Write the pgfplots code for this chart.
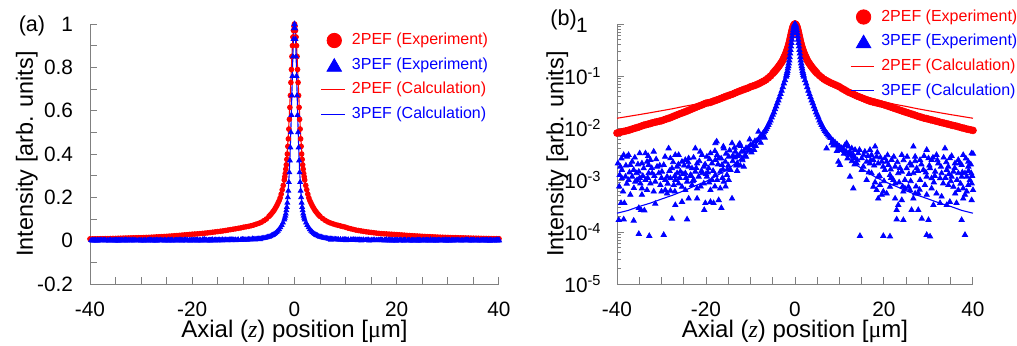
\documentclass[border=0pt]{standalone}
\usepackage{pgfplots}
\pgfplotsset{compat=1.18}
\usepackage{pgfplotstable}
\usepackage{fontspec}
\setmainfont{Liberation Sans}
\newfontfamily\serif{Liberation Serif}
\definecolor{pr}{RGB}{255,0,0}
\definecolor{pb}{RGB}{0,0,255}
\definecolor{axg}{RGB}{128,128,128}

% 2PEF experiment
\pgfplotstableread{
z v
-40 0.0080
-39.5 0.0082
-39 0.0084
-38.5 0.0086
-38 0.0088
-37.5 0.0090
-37 0.0093
-36.5 0.0096
-36 0.0099
-35.5 0.0102
-35 0.0105
-34.5 0.0109
-34 0.0113
-33.5 0.0116
-33 0.0119
-32.5 0.0122
-32 0.0126
-31.5 0.0129
-31 0.0132
-30.5 0.0135
-30 0.0138
-29.5 0.0143
-29 0.0148
-28.5 0.0153
-28 0.0158
-27.5 0.0165
-27 0.0172
-26.5 0.0179
-26 0.0186
-25.5 0.0193
-25 0.0200
-24.5 0.0208
-24 0.0217
-23.5 0.0226
-23 0.0236
-22.5 0.0246
-22 0.0256
-21.5 0.0266
-21 0.0276
-20.5 0.0288
-20 0.0300
-19.5 0.0306
-19 0.0312
-18.5 0.0324
-18 0.0336
-17.5 0.0348
-17 0.0360
-16.5 0.0375
-16 0.0390
-15.5 0.0405
-15 0.0420
-14.5 0.0435
-14 0.0450
-13.5 0.0470
-13 0.0490
-12.5 0.0510
-12 0.0530
-11.5 0.0550
-11 0.0570
-10.5 0.0590
-10 0.0620
-9.5 0.0640
-9 0.0660
-8.5 0.0690
-8 0.0720
-7.5 0.0760
-7 0.0800
-6.5 0.0850
-6 0.0920
-5.5 0.1000
-5.0 0.112
-4.8 0.117
-4.6 0.122
-4.4 0.128
-4.2 0.134
-4.0 0.140
-3.8 0.148
-3.6 0.156
-3.4 0.165
-3.2 0.175
-3.0 0.185
-2.8 0.198
-2.6 0.215
-2.4 0.235
-2.2 0.255
-2.0 0.280
-1.9 0.295
-1.8 0.310
-1.7 0.330
-1.6 0.350
-1.5 0.375
-1.4 0.400
-1.3 0.435
-1.2 0.470
-1.1 0.515
-1.0 0.560
-0.9 0.615
-0.8 0.670
-0.7 0.730
-0.6 0.790
-0.5 0.850
-0.4 0.900
-0.3 0.940
-0.2 0.970
-0.1 0.990
0 1.000
0.1 0.990
0.2 0.970
0.3 0.940
0.4 0.900
0.5 0.850
0.6 0.790
0.7 0.730
0.8 0.670
0.9 0.615
1.0 0.560
1.1 0.515
1.2 0.470
1.3 0.435
1.4 0.400
1.5 0.375
1.6 0.350
1.7 0.330
1.8 0.310
1.9 0.295
2.0 0.280
2.2 0.255
2.4 0.235
2.6 0.215
2.8 0.198
3.0 0.185
3.2 0.175
3.4 0.165
3.6 0.156
3.8 0.148
4.0 0.140
4.2 0.134
4.4 0.128
4.6 0.122
4.8 0.117
5.0 0.112
5.5 0.102
6 0.094
6.5 0.087
7 0.082
7.5 0.078
8 0.074
8.5 0.071
9 0.068
9.5 0.065
10 0.062
10.5 0.058
11 0.055
11.5 0.052
12 0.049
12.5 0.047
13 0.045
13.5 0.043
14 0.041
14.5 0.0395
15 0.038
15.5 0.0365
16 0.035
16.5 0.0337
17 0.0325
17.5 0.0317
18 0.0310
18.5 0.0302
19 0.0295
19.5 0.0288
20 0.0280
20.5 0.0271
21 0.0262
21.5 0.0253
22 0.0245
22.5 0.0237
23 0.0229
23.5 0.0221
24 0.0214
24.5 0.0207
25 0.0200
25.5 0.0194
26 0.0188
26.5 0.0182
27 0.0176
27.5 0.0170
28 0.0165
28.5 0.0160
29 0.0155
29.5 0.0152
30 0.0148
30.5 0.0144
31 0.0141
31.5 0.0137
32 0.0134
32.5 0.0130
33 0.0127
33.5 0.0124
34 0.0121
34.5 0.0118
35 0.0115
35.5 0.0112
36 0.0110
36.5 0.0107
37 0.0104
37.5 0.0101
38 0.0099
38.5 0.0096
39 0.0094
39.5 0.0092
40 0.0090
}\twoexp

% 3PEF experiment
\pgfplotstableread{
z v
-14 0.0023
-13.5 0.0027
-13 0.0029
-12.5 0.0030
-12 0.0035
-11.5 0.0036
-11 0.0041
-10.5 0.0042
-10 0.0047
-9.5 0.0049
-9 0.0056
-8.5 0.0058
-8 0.0065
-7.75 0.0068
-7.5 0.0072
-7.25 0.0077
-7 0.0082
-6.75 0.0088
-6.5 0.0095
-6.25 0.0104
-6 0.0115
-5.75 0.0127
-5.5 0.014
-5.25 0.016
-5 0.018
-4.75 0.020
-4.5 0.023
-4.25 0.026
-4 0.030
-3.75 0.034
-3.5 0.039
-3.25 0.045
-3 0.052
-2.75 0.061
-2.5 0.072
-2.25 0.083
-2 0.097
-1.9 0.105
-1.8 0.115
-1.7 0.125
-1.6 0.14
-1.5 0.155
-1.4 0.175
-1.3 0.20
-1.2 0.23
-1.1 0.27
-1.0 0.315
-0.9 0.37
-0.8 0.43
-0.7 0.50
-0.6 0.58
-0.5 0.67
-0.4 0.76
-0.3 0.85
-0.2 0.93
-0.1 0.98
0 1.0
0.1 0.98
0.2 0.93
0.3 0.85
0.4 0.76
0.5 0.67
0.6 0.58
0.7 0.50
0.8 0.43
0.9 0.37
1.0 0.315
1.1 0.27
1.2 0.23
1.3 0.20
1.4 0.175
1.5 0.155
1.6 0.14
1.7 0.125
1.8 0.115
1.9 0.105
2 0.097
2.25 0.083
2.5 0.072
2.75 0.061
3 0.052
3.25 0.045
3.5 0.039
3.75 0.034
4 0.030
4.25 0.026
4.5 0.023
4.75 0.020
5 0.018
5.25 0.016
5.5 0.014
5.75 0.0127
6 0.0115
6.25 0.0104
6.5 0.0095
6.75 0.0088
7 0.0082
7.25 0.0077
7.5 0.0072
7.75 0.0068
8 0.0064
8.5 0.0058
9 0.0053
9.5 0.0048
10 0.0044
10.5 0.0041
11 0.0038
11.5 0.0035
12 0.0032
12.5 0.0030
13 0.0028
13.5 0.0026
14 0.0024
-12.2 0.0045
-11 0.0028
-10.2 0.0060
-9.2 0.0038
-8.2 0.0085
-7.7 0.0052
-6.8 0.0065
-13.2 0.0019
-11.8 0.0024
-9.8 0.0034
-8.8 0.0045
-17.6 0.0055
-16.1 0.0044
-12.4 0.0050
-14.15 0.0051
-13.4 0.0035
-12.65 0.0047
-11.9 0.0026
-11.2 0.0030
-10.4 0.0038
-13.0 0.0021
-11.5 0.0018
-13.0 0.0015
-12.3 0.0019
-39.8 2.09e-3
-39.25 1.81e-3
-38.9 1.56e-3
-38.5 3.03e-3
-37.75 2.81e-3
-37.4 3.03e-3
-37.0 1.95e-3
-36.6 2.25e-3
-36.25 1.56e-3
-39.4 1.25e-3
-38.9 1.08e-3
-38.1 1.16e-3
-37.4 1.0e-3
-36.6 1.16e-3
-35.9 9.3e-4
-38.65 6.0e-4
-37.0 5.2e-4
-39.1 3.6e-4
-38.35 3.6e-4
-39.6 1.7e-4
-38.5 1.75e-4
-36.25 1.65e-4
-35.1 9.2e-5
-35.65 1.35e-3
-34.9 3.26e-3
-33.6 3.26e-3
-34.4 2.09e-3
-33.25 2.25e-3
-32.9 1.95e-3
-35.1 1.45e-3
-34.0 1.68e-3
-32.9 1.35e-3
-35.5 1.0e-3
-34.75 8.6e-4
-33.6 1.0e-3
-32.5 8.6e-4
-34.4 6.9e-4
-33.25 6.4e-4
-34.4 5.2e-4
-35.1 2.9e-4
-34.6 2.65e-4
-33.85 2.6e-4
-32.75 8.4e-5
-32.5 2.43e-3
-31.75 3.51e-3
-31.0 1.81e-3
-32.1 1.35e-3
-30.6 1.35e-3
-29.9 1.45e-3
-29.5 1.95e-3
-31.4 9.3e-4
-30.25 8.0e-4
-29.15 1.0e-3
-31.75 6.0e-4
-29.15 6.4e-4
-28.75 5.5e-4
-31.4 3.5e-4
-29.5 8.8e-5
-28.75 1.16e-3
-28.4 4.06e-3
-28.0 2.61e-3
-26.9 3.03e-3
-26.15 3.03e-3
-27.65 1.68e-3
-26.5 1.81e-3
-25.4 2.25e-3
-25.75 1.45e-3
-28.0 1.08e-3
-26.9 1.0e-3
-26.15 8.6e-4
-27.25 8.0e-4
-25.4 7.4e-4
-28.0 6.2e-4
-26.9 3.3e-4
-25.4 3.8e-4
-27.65 1.8e-4
-26.5 1.35e-3
-24.65 2.43e-3
-23.9 2.61e-3
-22.4 4.06e-3
-23.9 1.81e-3
-23.15 1.68e-3
-22.0 2.09e-3
-24.65 1.35e-3
-23.5 1.25e-3
-22.4 1.45e-3
-21.65 1.16e-3
-24.25 9.3e-4
-22.75 1.0e-3
-24.65 6.4e-4
-22.0 6.9e-4
-23.9 4.4e-4
-22.0 4.4e-4
-24.25 1.75e-4
-23.15 8.0e-4
-21.3 3.51e-3
-20.9 3.03e-3
-19.8 2.81e-3
-19.0 3.26e-3
-17.9 5.1e-3
-17.5 3.03e-3
-20.5 1.81e-3
-19.4 1.68e-3
-18.65 2.09e-3
-17.9 2.43e-3
-20.9 1.35e-3
-19.8 1.16e-3
-18.65 1.0e-3
-17.9 1.25e-3
-20.5 8.6e-4
-19.0 6.4e-4
-20.15 3.6e-4
-20.4 2.65e-4
-19.0 3.8e-4
-18.3 3.6e-4
-17.5 1.0e-3
-17.15 2.61e-3
-16.0 4.06e-3
-16.4 1.95e-3
-15.65 2.25e-3
-14.9 2.81e-3
-16.8 1.45e-3
-15.3 1.25e-3
-14.5 1.56e-3
-16.0 9.3e-4
-17.15 4.1e-4
-16.55 2.9e-4
-14.15 4.4e-4
-14.9 1.0e-3
-16.8 6.9e-4
-39.0 2.6e-3
-38.0 1.9e-3
-37.2 1.4e-3
-36.0 2.7e-3
-35.3 2.0e-3
-34.2 1.2e-3
-33.0 2.9e-3
-32.2 1.7e-3
-31.2 2.5e-3
-30.4 1.9e-3
-30.0 1.1e-3
-29.2 2.8e-3
-28.2 1.5e-3
-27.4 2.2e-3
-27.0 1.2e-3
-26.2 2.0e-3
-25.2 1.3e-3
-24.9 1.9e-3
-24.0 2.2e-3
-23.3 1.2e-3
-22.8 2.7e-3
-22.2 1.7e-3
-21.5 2.3e-3
-21.0 1.5e-3
-20.2 2.0e-3
-19.6 1.4e-3
-19.2 2.5e-3
-18.4 1.5e-3
-18.0 3.6e-3
-17.3 2.0e-3
-16.6 2.6e-3
-16.2 1.6e-3
-15.5 3.2e-3
-15.0 1.9e-3
-14.7 3.7e-3
-14.0 2.9e-3
-13.6 4.2e-3
-39.5 7.5e-4
-37.8 8.5e-4
-36.2 7.0e-4
-34.9 1.1e-3
-33.1 1.1e-3
-31.6 1.2e-3
-30.0 6.0e-4
-28.6 8.5e-4
-27.0 6.0e-4
-25.9 1.1e-3
-24.5 1.1e-3
-23.0 9.5e-4
-21.2 7.5e-4
-20.0 1.3e-3
-19.3 9.0e-4
-18.0 7.5e-4
-16.3 1.1e-3
-15.6 7.5e-4
-15.2 1.6e-3
7.1 4.06e-3
8.25 5.1e-3
9.0 4.7e-3
9.75 4.4e-3
10.1 3.8e-3
10.5 4.06e-3
11.25 4.7e-3
11.6 5.1e-3
12.0 4.4e-3
12.35 3.51e-3
12.75 4.06e-3
13.1 3.03e-3
13.5 3.8e-3
14.2 3.26e-3
15.0 2.61e-3
9.75 2.25e-3
10.1 1.95e-3
12.35 1.16e-3
13.1 6.9e-4
15.7 3.51e-3
16.85 3.8e-3
18.0 4.4e-3
17.2 3.03e-3
18.35 2.81e-3
16.1 2.25e-3
16.85 2.09e-3
17.6 2.43e-3
18.7 2.09e-3
19.5 2.25e-3
20.2 2.61e-3
21.0 1.95e-3
21.7 2.43e-3
22.5 1.81e-3
20.6 2.25e-3
16.1 1.0e-3
17.6 7.4e-4
18.35 6.4e-4
19.1 8.0e-4
19.85 6.0e-4
18.7 4.4e-4
19.5 5.2e-4
20.6 5.5e-4
21.35 7.4e-4
22.1 1.0e-3
22.5 8.6e-4
23.2 1.35e-3
24.0 1.45e-3
24.7 1.0e-3
25.5 7.4e-4
25.85 6.4e-4
24.35 6.0e-4
26.6 4.4e-4
27.0 5.5e-4
27.7 5.5e-4
22.5 4.4e-4
24.0 4.1e-4
24.7 6.9e-4
22.85 2.65e-4
23.2 3.3e-4
26.2 2.65e-4
27.7 2.65e-4
28.5 1.8e-4
30.0 1.7e-4
22.85 1.75e-4
24.35 1.7e-4
24.0 3.03e-3
26.6 4.4e-3
27.0 2.81e-3
28.1 2.43e-3
29.6 3.8e-3
30.0 2.61e-3
30.7 2.43e-3
31.8 3.03e-3
32.2 2.09e-3
33.7 4.06e-3
34.8 2.61e-3
35.95 2.09e-3
36.7 2.43e-3
37.45 1.95e-3
37.8 3.03e-3
38.95 1.81e-3
39.7 3.26e-3
25.85 2.09e-3
27.35 1.68e-3
28.85 1.56e-3
29.6 1.16e-3
30.7 1.08e-3
32.95 1.35e-3
34.1 1.56e-3
35.2 1.16e-3
36.7 1.35e-3
38.2 1.35e-3
39.3 1.0e-3
30.35 1.68e-3
31.5 1.45e-3
32.6 1.08e-3
33.3 8.6e-4
34.45 8.0e-4
35.6 7.4e-4
36.7 6.4e-4
37.8 6.9e-4
38.95 8.0e-4
39.7 8.6e-4
30.7 6.9e-4
31.8 5.5e-4
29.6 5.2e-4
32.95 4.8e-4
34.8 3.8e-4
34.1 3.3e-4
32.6 3.6e-4
31.1 3.3e-4
36.3 3.6e-4
37.8 4.4e-4
38.2 5.2e-4
39.7 4.1e-4
37.45 1.7e-4
14.6 8.4e-5
19.85 8.4e-5
21.35 8.2e-5
29.6 8.8e-5
30.35 8.2e-5
38.2 8.8e-5
38.6 1.16e-3
17.2 1.35e-3
18.7 1.16e-3
20.2 1.56e-3
21.35 1.25e-3
25.1 1.68e-3
26.6 1.35e-3
28.1 1.0e-3
34.45 1.81e-3
35.6 1.45e-3
37.45 1.16e-3
38.95 2.25e-3
40.0 6.4e-4
15.0 1.56e-3
13.85 2.09e-3
15.35 1.81e-3
40.0 3.2e-3
39.6 1.35e-3
14.5 3.8e-3
15.4 3.0e-3
16.4 2.9e-3
17.0 2.4e-3
17.8 1.9e-3
18.5 3.4e-3
19.2 2.7e-3
19.8 1.8e-3
20.8 3.0e-3
21.5 1.6e-3
22.2 2.8e-3
23.0 2.2e-3
23.6 1.7e-3
24.4 2.4e-3
25.2 2.8e-3
25.6 1.3e-3
26.2 1.9e-3
27.0 2.3e-3
27.6 1.5e-3
28.4 2.0e-3
29.0 2.9e-3
29.4 1.4e-3
30.2 1.9e-3
31.0 2.7e-3
31.4 1.2e-3
32.0 2.4e-3
32.8 1.8e-3
33.4 2.7e-3
34.0 2.2e-3
34.6 1.3e-3
35.2 2.9e-3
35.9 1.7e-3
36.4 1.0e-3
37.0 2.1e-3
37.6 1.4e-3
38.4 2.6e-3
39.0 1.5e-3
39.5 2.0e-3
16.6 1.4e-3
18.0 9.0e-4
19.0 1.2e-3
20.0 9.5e-4
21.6 1.1e-3
23.4 9.0e-4
24.2 7.5e-4
26.0 9.5e-4
27.2 7.5e-4
28.0 6.5e-4
29.2 8.0e-4
31.2 9.0e-4
33.8 1.1e-3
35.0 9.5e-4
36.0 5.5e-4
37.2 8.5e-4
38.6 6.0e-4
39.8 1.2e-3
11.8 2.6e-3
12.8 2.3e-3
13.4 2.0e-3
11.0 3.2e-3
9.4 3.6e-3
8.6 4.6e-3
}\threeexp

% 2PEF calculation
\pgfplotstableread{
z v
-40 0.0154
-37.5 0.0167
-35 0.0181
-32.5 0.0197
-30 0.0215
-27.5 0.0235
-25 0.026
-22.5 0.0285
-20 0.032
-18 0.036
-16 0.040
-14 0.045
-12 0.051
-10 0.060
-9 0.066
-8 0.073
-7 0.082
-6 0.094
-5 0.112
-4 0.14
-3.5 0.16
-3 0.185
-2.5 0.225
-2.0 0.285
-1.8 0.32
-1.6 0.365
-1.4 0.42
-1.2 0.49
-1.0 0.585
-0.9 0.635
-0.8 0.69
-0.7 0.745
-0.6 0.80
-0.5 0.855
-0.4 0.90
-0.3 0.94
-0.2 0.97
-0.1 0.99
0 1
0.1 0.99
0.2 0.97
0.3 0.94
0.4 0.90
0.5 0.855
0.6 0.80
0.7 0.745
0.8 0.69
0.9 0.635
1.0 0.585
1.2 0.49
1.4 0.42
1.6 0.365
1.8 0.32
2.0 0.285
2.5 0.225
3 0.185
3.5 0.16
4 0.14
5 0.112
6 0.094
7 0.082
8 0.073
9 0.066
10 0.060
12 0.051
14 0.045
16 0.040
18 0.036
20 0.032
22.5 0.0285
25 0.026
27.5 0.0235
30 0.0215
32.5 0.0197
35 0.0181
37.5 0.0167
40 0.0154
}\twocalc

% 3PEF calculation
\pgfplotstableread{
z v
-40 0.00023
-37.5 0.00026
-35 0.00031
-32.5 0.00036
-30 0.00043
-27.5 0.00051
-25 0.00062
-22.5 0.00077
-20 0.00094
-18 0.00115
-16 0.00145
-14 0.0019
-12 0.0026
-10 0.0038
-9 0.0047
-8 0.0059
-7 0.0077
-6 0.0107
-5 0.016
-4 0.026
-3.5 0.034
-3 0.046
-2.5 0.065
-2.0 0.095
-1.8 0.115
-1.6 0.14
-1.4 0.18
-1.2 0.24
-1.0 0.325
-0.9 0.38
-0.8 0.445
-0.7 0.52
-0.6 0.60
-0.5 0.69
-0.4 0.78
-0.3 0.87
-0.2 0.94
-0.1 0.985
0 1
0.1 0.985
0.2 0.94
0.3 0.87
0.4 0.78
0.5 0.69
0.6 0.60
0.7 0.52
0.8 0.445
0.9 0.38
1.0 0.325
1.2 0.24
1.4 0.18
1.6 0.14
1.8 0.115
2.0 0.095
2.5 0.065
3 0.046
3.5 0.034
4 0.026
5 0.016
6 0.0107
7 0.0077
8 0.0059
9 0.0047
10 0.0038
12 0.0026
14 0.0019
16 0.00145
18 0.00115
20 0.00094
22.5 0.00077
25 0.00062
27.5 0.00051
30 0.00043
32.5 0.00036
35 0.00031
37.5 0.00026
40 0.00023
}\threecalc

\pgfplotsset{
  myaxis/.style={
    scale only axis, anchor=south west, height=130pt,
    axis lines=left, axis line style={-, axg, line width=0.5pt},
    tick align=inside, tick style={axg, line width=0.5pt},
    major tick length=3.3pt, minor tick length=1.8pt,
    xmin=-40, xmax=40,
    xtick={-40,-35,-30,-25,-20,-15,-10,-5,0,5,10,15,20,25,30,35,40},
    xticklabels={-40,,,,-20,,,,0,,,,20,,,,40},
    tick label style={font=\fontsize{10.4}{12}\selectfont},
    xticklabel shift=5.4pt,
    xlabel={Axial ({\serif\itshape z}) position [{\serif μ}m]},
    ylabel={Intensity [arb. units]},
    xlabel style={font=\fontsize{12}{14}\selectfont, at={(axis description cs:0.5,-0.2065)}, anchor=base},
    ylabel style={font=\fontsize{11.7}{14}\selectfont},
    clip=false,
    legend style={draw=none, fill=none, inner sep=0pt, outer sep=0pt,
      font=\fontsize{8}{9.6}\selectfont, row sep=5pt, column sep=3.35pt,
      nodes={inner sep=0pt}, anchor=north west},
    legend cell align=left,
  },
  legcirc/.style={pr, mark=*, only marks, mark size=3.6pt,
    legend image code/.code={\draw[pr, fill=pr, only marks, mark=*, mark size=3.6pt] plot coordinates {(6.5pt,0pt)};}},
  legtri/.style={pb, mark=triangle*, only marks, mark size=4.2pt,
    legend image code/.code={\draw[pb, fill=pb, only marks, mark=triangle*, mark size=4.2pt] plot coordinates {(6.5pt,-1pt)};}},
  leglr/.style={pr, line width=0.6pt, mark=none,
    legend image code/.code={\draw[draw=pr, line width=0.6pt] (0pt,0pt) -- (11.7pt,0pt);}},
  leglb/.style={pb, line width=0.6pt, mark=none,
    legend image code/.code={\draw[draw=pb, line width=0.6pt] (0pt,0pt) -- (11.7pt,0pt);}},
}

\begin{document}
\begin{tikzpicture}
\useasboundingbox (0pt,0pt) rectangle (508.5pt,172.5pt);

\begin{axis}[myaxis, at={(45pt,30.5pt)}, width=204.5pt,
  ymin=-0.2, ymax=1,
  ytick={-0.2,-0.1,0,0.1,0.2,0.3,0.4,0.5,0.6,0.7,0.8,0.9,1},
  yticklabels={-0.2,,0,,0.2,,0.4,,0.6,,0.8,,1},
  yticklabel shift=5pt,
  ylabel style={at={(axis description cs:-0.1394,0.5)}, anchor=base},
  legend style={at={(axis description cs:0.564,0.9646)}},
]
\addplot[only marks, mark=*, mark size=1.2pt, pr, forget plot] table[x=z,y=v]{\twoexp};
\addplot[only marks, mark=triangle*, mark size=1.35pt, pb, forget plot] table[x=z,y=v]{\threeexp};
\addplot[pr, line width=0.55pt, forget plot] table[x=z,y=v]{\twocalc};
\addplot[pb, line width=0.55pt, forget plot] table[x=z,y=v]{\threecalc};
\addlegendimage{legcirc}
\addlegendentry{\textcolor{pr}{2PEF (Experiment)}}
\addlegendimage{legtri}
\addlegendentry{\textcolor{pb}{3PEF (Experiment)}}
\addlegendimage{leglr}
\addlegendentry{\textcolor{pr}{2PEF (Calculation)}}
\addlegendimage{leglb}
\addlegendentry{\textcolor{pb}{3PEF (Calculation)}}
\end{axis}

\begin{axis}[myaxis, at={(308.5pt,30.5pt)}, width=178pt,
  ymode=log, ymin=1e-5, ymax=1,
  ytick={1e-5,1e-4,1e-3,1e-2,1e-1,1},
  yticklabels={10\textsuperscript{-5},10\textsuperscript{-4},10\textsuperscript{-3},10\textsuperscript{-2},10\textsuperscript{-1},1\phantom{\textsuperscript{-1}}},
  yticklabel shift=4.2pt,
  ylabel style={at={(axis description cs:-0.1508,0.5)}, anchor=base},
  legend style={at={(axis description cs:0.6545,1.055)}},
]
\addplot[only marks, mark=*, mark size=1.7pt, pr, forget plot] table[x=z,y=v]{\twoexp};
\addplot[only marks, mark=triangle*, mark size=1.5pt, pb, forget plot] table[x=z,y=v]{\threeexp};
\addplot[pr, line width=0.55pt, forget plot] table[x=z,y=v]{\twocalc};
\addplot[pb, line width=0.55pt, forget plot] table[x=z,y=v]{\threecalc};
\addlegendimage{legcirc}
\addlegendentry{\textcolor{pr}{2PEF (Experiment)}}
\addlegendimage{legtri}
\addlegendentry{\textcolor{pb}{3PEF (Experiment)}}
\addlegendimage{leglr}
\addlegendentry{\textcolor{pr}{2PEF (Calculation)}}
\addlegendimage{leglb}
\addlegendentry{\textcolor{pb}{3PEF (Calculation)}}
\end{axis}

\node[anchor=base west, font=\fontsize{10.8}{13}\selectfont] at (5.85pt,156.65pt) {(a)};
\node[anchor=base west, font=\fontsize{10.8}{13}\selectfont] at (271.65pt,160pt) {(b)};
\end{tikzpicture}
\end{document}
